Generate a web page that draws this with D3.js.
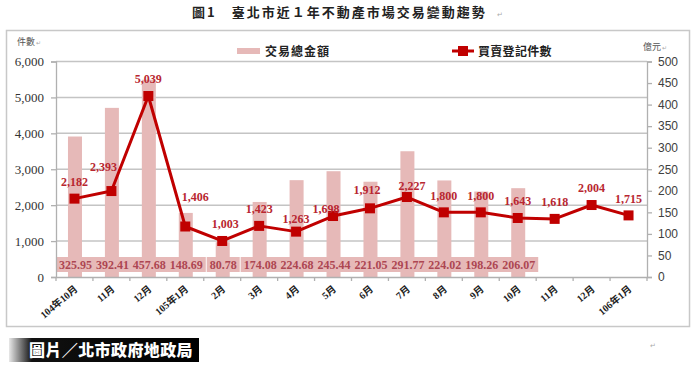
<!DOCTYPE html>
<html><head><meta charset="utf-8">
<script src="https://cdn.jsdelivr.net/npm/d3@7/dist/d3.min.js"></script>
<style>
html,body{margin:0;padding:0;background:#fff;}
svg{display:block;}
</style></head>
<body>
<svg id="chart" width="696" height="376"></svg>
<script>
// ---- data ----
const categories = ["104年10月","11月","12月","105年1月","2月","3月","4月","5月","6月","7月","8月","9月","10月","11月","12月","106年1月"];
const amountValues = [325.95,392.41,457.68,148.69,80.78,174.08,224.68,245.44,221.05,291.77,224.02,198.26,206.07,null,null,null];
const countValues = [2182,2393,5039,1406,1003,1423,1263,1698,1912,2227,1800,1800,1643,1618,2004,1715];
const leftTicks = [0,1000,2000,3000,4000,5000,6000];
const rightTicks = [0,50,100,150,200,250,300,350,400,450,500];
const titleText = "圖1　臺北市近１年不動產市場交易變動趨勢";
const leftAxisTitle = "件數";
const rightAxisTitle = "億元";
const barSeriesName = "交易總金額";
const lineSeriesName = "買賣登記件數";
const sourceText = "圖片／北市政府地政局";

// ---- layout ----
const svg = d3.select("#chart");
const plot = {left: 56, right: 647, top: 61.5, bottom: 277};
const serif = "'Liberation Serif','Times New Roman','Noto Sans CJK TC',serif";
const cjk = "'Noto Sans CJK TC','Noto Sans CJK SC',sans-serif";
const sans = "'Liberation Sans','DejaVu Sans',sans-serif";
const barColor = "#e6b9b8";
const lineColor = "#c00000";
const gridColor = "#c4c4c4";
// per-point label nudges (dx, dy) in px
const labelNudge = {1:[-8,-7],3:[10,-13],4:[3,0],6:[0,4],7:[-7,10],8:[-3,-2],9:[5,6]};

const x = d3.scaleBand().domain(d3.range(categories.length)).range([plot.left, plot.right]).paddingInner(0).paddingOuter(0);
const yL = d3.scaleLinear().domain([0, 6000]).range([plot.bottom, plot.top]);
const yR = d3.scaleLinear().domain([0, 500]).range([plot.bottom, plot.top]);
const cx = i => x(i) + x.bandwidth() / 2;

// outer frame
svg.append("rect").attr("x", 6.5).attr("y", 30.5).attr("width", 683).attr("height", 296)
  .attr("fill", "none").attr("stroke", "#c8c8c8").attr("stroke-width", 1.5);

// title
svg.append("text").attr("x", 192).attr("y", 17).attr("font-family", cjk).attr("font-size", 13)
  .attr("font-weight", 700).attr("letter-spacing", 2).attr("fill", "#222").text(titleText);
svg.append("text").attr("x", 497).attr("y", 17).attr("font-family", "DejaVu Sans").attr("font-size", 7).attr("fill", "#aaa").text("↵");

// axis titles
svg.append("text").attr("x", 17).attr("y", 45).attr("font-family", cjk).attr("font-size", 9).attr("fill", "#555").text(leftAxisTitle);
svg.append("text").attr("x", 36).attr("y", 45).attr("font-family", "DejaVu Sans").attr("font-size", 6).attr("fill", "#aaa").text("↵");
svg.append("text").attr("x", 643).attr("y", 50).attr("font-family", cjk).attr("font-size", 9).attr("fill", "#555").text(rightAxisTitle);
svg.append("text").attr("x", 662).attr("y", 50).attr("font-family", "DejaVu Sans").attr("font-size", 6).attr("fill", "#aaa").text("↵");

// gridlines
svg.append("g").selectAll("line").data(leftTicks.filter(d => d > 0)).join("line")
  .attr("x1", plot.left).attr("x2", plot.right).attr("y1", d => yL(d)).attr("y2", d => yL(d))
  .attr("stroke", gridColor).attr("stroke-width", 1.5);

// bars
const barW = 14;
const barData = amountValues.map((v, i) => ({i, v})).filter(d => d.v != null);
svg.append("g").selectAll("rect").data(barData).join("rect")
  .attr("x", d => cx(d.i) - barW / 2 + 0.5).attr("width", barW)
  .attr("y", d => yR(d.v)).attr("height", d => yR(0) - yR(d.v)).attr("fill", barColor);

// bar value labels with boxes
const bl = svg.append("g");
const boxes = bl.append("g");
const btexts = bl.append("g").selectAll("text").data(barData).join("text")
  .attr("x", d => cx(d.i) + 1).attr("y", 268.5).attr("text-anchor", "middle")
  .attr("font-family", serif).attr("font-size", 12).attr("font-weight", 700).attr("fill", "#ad4652")
  .text(d => d3.format(".2f")(d.v));
btexts.each(function(d) {
  const w = this.getComputedTextLength();
  boxes.append("rect").attr("x", cx(d.i) + 1 - w / 2 - 3).attr("y", 257).attr("width", w + 6).attr("height", 15)
    .attr("fill", barColor);
});

// axes
const axL = svg.append("g").attr("transform", `translate(${plot.left},0)`)
  .call(d3.axisLeft(yL).tickValues(leftTicks).tickFormat(d3.format(",")).tickSize(5).tickPadding(7));
axL.selectAll("text").attr("font-family", serif).attr("font-size", 13).attr("fill", "#333");
const axR = svg.append("g").attr("transform", `translate(${plot.right},0)`)
  .call(d3.axisRight(yR).tickValues(rightTicks).tickSize(5).tickPadding(6));
axR.selectAll("text").attr("font-family", sans).attr("font-size", 12).attr("fill", "#404040");
const axB = svg.append("g").attr("transform", `translate(0,${plot.bottom})`)
  .call(d3.axisBottom(x).tickSize(0).tickFormat(""));
[axL, axR, axB].forEach(a => {
  a.selectAll("path,line").attr("stroke", "#b0b0b0").attr("stroke-width", 1.3);
});
// category boundary ticks
svg.append("g").selectAll("line").data(d3.range(categories.length + 1)).join("line")
  .attr("x1", i => plot.left + i * x.bandwidth()).attr("x2", i => plot.left + i * x.bandwidth())
  .attr("y1", plot.bottom).attr("y2", plot.bottom + 4).attr("stroke", "#b0b0b0").attr("stroke-width", 1.3);
// category labels
svg.append("g").selectAll("text").data(categories).join("text")
  .attr("transform", (d, i) => `translate(${cx(i) + 4},${plot.bottom + 13}) rotate(-40)`)
  .attr("text-anchor", "end").attr("font-family", serif).attr("font-size", 10).attr("font-weight", 700)
  .attr("fill", "#222").text(d => d);

// line
const line = d3.line().x((d, i) => cx(i)).y(d => yL(d));
svg.append("path").datum(countValues).attr("d", line).attr("fill", "none")
  .attr("stroke", lineColor).attr("stroke-width", 3).attr("stroke-linejoin", "round");
svg.append("g").selectAll("rect").data(countValues).join("rect")
  .attr("x", (d, i) => cx(i) - 5).attr("y", d => yL(d) - 5).attr("width", 10).attr("height", 10)
  .attr("fill", lineColor);
// line labels
svg.append("g").selectAll("text").data(countValues).join("text")
  .attr("x", (d, i) => cx(i) + (labelNudge[i] ? labelNudge[i][0] : 0))
  .attr("y", (d, i) => yL(d) - 17 + (labelNudge[i] ? labelNudge[i][1] : 0))
  .attr("dy", "0.35em").attr("text-anchor", "middle")
  .attr("font-family", serif).attr("font-size", 12).attr("font-weight", 700).attr("fill", "#b82630")
  .text(d => d3.format(",")(d));

// legend
svg.append("rect").attr("x", 237).attr("y", 48).attr("width", 23).attr("height", 6).attr("fill", barColor);
svg.append("text").attr("x", 265).attr("y", 56).attr("font-family", cjk).attr("font-size", 12)
  .attr("font-weight", 700).attr("letter-spacing", 1).attr("fill", "#222").text(barSeriesName);
svg.append("line").attr("x1", 452).attr("x2", 474).attr("y1", 51).attr("y2", 51).attr("stroke", lineColor).attr("stroke-width", 3);
svg.append("rect").attr("x", 458).attr("y", 46).attr("width", 10).attr("height", 10).attr("fill", lineColor);
svg.append("text").attr("x", 478).attr("y", 56).attr("font-family", cjk).attr("font-size", 12)
  .attr("font-weight", 700).attr("letter-spacing", 0.3).attr("fill", "#222").text(lineSeriesName);

// source banner
const defs = svg.append("defs");
const grad = defs.append("linearGradient").attr("id", "bannerGrad").attr("x1", "0").attr("x2", "1").attr("y1", "0").attr("y2", "0");
grad.append("stop").attr("offset", "0%").attr("stop-color", "#e8e8e8");
grad.append("stop").attr("offset", "12%").attr("stop-color", "#111");
grad.append("stop").attr("offset", "100%").attr("stop-color", "#000");
svg.append("rect").attr("x", 9).attr("y", 338).attr("width", 190).attr("height", 24).attr("fill", "url(#bannerGrad)");
svg.append("text").attr("x", 29).attr("y", 356).attr("font-family", cjk).attr("font-size", 16)
  .attr("font-weight", 900).attr("letter-spacing", 0.4).attr("fill", "#fff").text(sourceText);
svg.append("text").attr("x", 650).attr("y", 348).attr("font-family", "DejaVu Sans").attr("font-size", 7).attr("fill", "#aaa").text("↵");
</script>
</body></html>
